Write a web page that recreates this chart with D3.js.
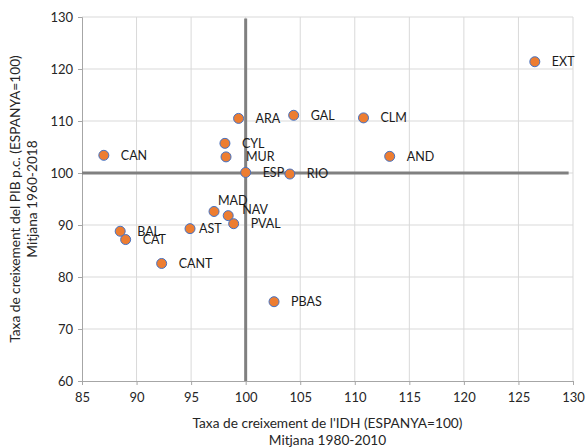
<!DOCTYPE html>
<html>
<head>
<meta charset="utf-8">
<script src="https://cdn.jsdelivr.net/npm/d3@7"></script>
<style>
  body { margin: 0; background: #fff; }
  svg text { font-family: Lato, "Open Sans", sans-serif; }
</style>
</head>
<body>
<svg id="chart" width="586" height="447"></svg>
<script>
// regions, IDH growth (x) and GDP p.c. growth (y), Spain = 100
const regions = ['CAN', 'ARA', 'CYL', 'MUR', 'ESP', 'GAL', 'RIO', 'CLM', 'AND', 'EXT',
                 'BAL', 'CAT', 'CANT', 'AST', 'MAD', 'NAV', 'PVAL', 'PBAS'];
const idh = [87.0, 99.35, 98.1, 98.2, 100.0, 104.4, 104.05, 110.8, 113.2, 126.5,
             88.5, 89.0, 92.3, 94.9, 97.1, 98.4, 98.9, 102.6];
const pib = [103.4, 110.5, 105.7, 103.1, 100.1, 111.1, 99.8, 110.6, 103.2, 121.4,
             88.8, 87.2, 82.6, 89.3, 92.6, 91.8, 90.25, 75.25];

const xTicks = [85, 90, 95, 100, 105, 110, 115, 120, 125, 130];
const yTicks = [60, 70, 80, 90, 100, 110, 120, 130];

// reference lines at 100
const vLine = [{ x: 100, y: 129.7 }, { x: 100, y: 60 }];
const hLine = [{ x: 85, y: 100 }, { x: 129.6, y: 100 }];

// label nudges (px) where the default right-hand placement is not used
const labelShift = { MUR: [20, 0], AST: [9, 0], MAD: [4, -11], NAV: [14, -6] };

const svg = d3.select('#chart');
const margin = { top: 17, right: 13, bottom: 66, left: 82 };
const width = 586 - margin.left - margin.right;
const height = 447 - margin.top - margin.bottom;

const g = svg.append('g').attr('transform', `translate(${margin.left},${margin.top})`);

const x = d3.scaleLinear().domain([85, 130]).range([0, width]);
const y = d3.scaleLinear().domain([60, 130]).range([height, 0]);

// grid
g.append('g')
  .selectAll('line')
  .data(xTicks.slice(1))
  .join('line')
  .attr('x1', d => x(d)).attr('x2', d => x(d))
  .attr('y1', 0).attr('y2', height)
  .attr('stroke', '#d9d9d9');
g.append('g')
  .selectAll('line')
  .data(yTicks.slice(1))
  .join('line')
  .attr('x1', 0).attr('x2', width)
  .attr('y1', d => y(d)).attr('y2', d => y(d))
  .attr('stroke', '#d9d9d9');

// axes
const xAxis = g.append('g')
  .attr('transform', `translate(0,${height})`)
  .call(d3.axisBottom(x).tickValues(xTicks).tickSize(4).tickPadding(5));
const yAxis = g.append('g')
  .call(d3.axisLeft(y).tickValues(yTicks).tickSize(4).tickPadding(5));
[xAxis, yAxis].forEach(a => {
  a.select('.domain').attr('stroke', '#a6a6a6');
  a.selectAll('.tick line').attr('stroke', '#a6a6a6');
  a.selectAll('.tick text').attr('fill', '#262626').style('font-size', '13px');
});
xAxis.selectAll('.tick text').attr('dy', '0.9em');

// reference lines
const line = d3.line().x(d => x(d.x)).y(d => y(d.y));
[vLine, hLine].forEach(l => {
  g.append('path').datum(l)
    .attr('d', line)
    .attr('fill', 'none')
    .attr('stroke', '#808080')
    .attr('stroke-width', 3);
});

// points
const pts = regions.map((r, i) => ({ r, x: idh[i], y: pib[i] }));
g.append('g')
  .selectAll('circle')
  .data(pts)
  .join('circle')
  .attr('cx', d => x(d.x))
  .attr('cy', d => y(d.y))
  .attr('r', 5)
  .attr('fill', '#ed7d31')
  .attr('stroke', '#4472c4')
  .attr('stroke-width', 1);

g.append('g')
  .selectAll('text')
  .data(pts)
  .join('text')
  .attr('x', d => x(d.x) + (labelShift[d.r] ? labelShift[d.r][0] : 17))
  .attr('y', d => y(d.y) + (labelShift[d.r] ? labelShift[d.r][1] : 0))
  .attr('dy', '0.35em')
  .attr('fill', '#1a1a1a')
  .style('font-size', '12.5px')
  .text(d => d.r);

// axis titles
const xt = svg.append('text')
  .attr('x', margin.left + width / 2)
  .attr('y', 428)
  .attr('text-anchor', 'middle')
  .attr('fill', '#262626')
  .style('font-size', '13.7px');
xt.append('tspan').attr('x', margin.left + width / 2).text("Taxa de creixement de l'IDH (ESPANYA=100)");
xt.append('tspan').attr('x', margin.left + width / 2).attr('dy', 17).text('Mitjana 1980-2010');

const yt = svg.append('text')
  .attr('transform', `translate(20,${margin.top + height / 2}) rotate(-90)`)
  .attr('text-anchor', 'middle')
  .attr('fill', '#262626')
  .style('font-size', '13.7px');
yt.append('tspan').attr('x', 0).text('Taxa de creixement del PIB p.c. (ESPANYA=100)');
yt.append('tspan').attr('x', 0).attr('dy', 17).text('Mitjana 1960-2018');
</script>
</body>
</html>
